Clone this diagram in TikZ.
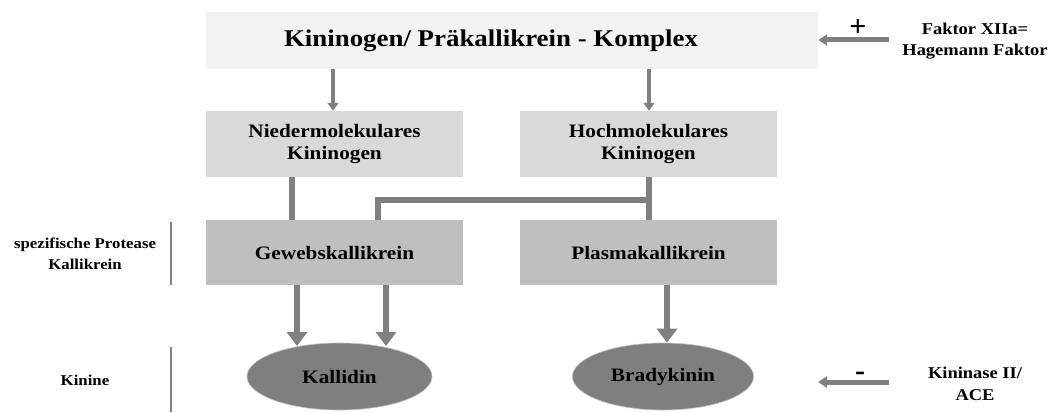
\documentclass[tikz,border=0pt]{standalone}
\usepackage{fontspec}
\setmainfont{Liberation Serif}
\newfontfamily\widefont{Liberation Serif}[FakeStretch=1.12]
\usetikzlibrary{arrows.meta,shapes.geometric}
\definecolor{topfill}{HTML}{F2F2F2}
\definecolor{midfill}{HTML}{D9D9D9}
\definecolor{lowfill}{HTML}{BFBFBF}
\definecolor{ellfill}{HTML}{7F7F7F}
\definecolor{conn}{HTML}{808080}
\tikzset{
  box/.style={rectangle, inner sep=0pt, font=\widefont\bfseries\fontsize{19}{22}\selectfont, align=center},
  kin/.style={ellipse, fill=ellfill, draw=lowfill, line width=0.6pt, inner sep=0pt, minimum width=185pt, minimum height=67pt, font=\widefont\bfseries\fontsize{19}{22}\selectfont},
  lbl/.style={font=\widefont\bfseries\fontsize{15}{20.5}\selectfont, align=center, inner sep=0pt},
  rlbl/.style={font=\widefont\bfseries\fontsize{16.5}{21.5}\selectfont, align=center, inner sep=0pt},
  thin arr/.style={draw=conn, line width=4pt, -{Triangle[width=11pt,length=8pt]}},
  fat arr/.style={draw=conn, line width=6.5pt, -{Triangle[width=20pt,length=14pt]}},
  fat line/.style={draw=conn, line width=6.5pt},
  side arr/.style={draw=conn, line width=5pt, -{Triangle[width=11pt,length=9pt]}},
  sep/.style={draw=conn, line width=1.2pt},
  sign/.style={font=\bfseries\fontsize{30}{30}\selectfont, inner sep=0pt}
}
\begin{document}
\begin{tikzpicture}[x=1pt,y=-1pt]
\useasboundingbox[fill=white] (0,0) rectangle (1051,412);
% boxes
\node[box, fill=topfill, minimum width=612pt, minimum height=57pt, font=\widefont\bfseries\fontsize{24}{28}\selectfont] (top) at (512,40.5) {Kininogen/ Präkallikrein - Komplex\hspace*{42pt}};
\node[box, fill=midfill, minimum width=257pt, minimum height=66pt] (nied) at (334.5,144) {Niedermolekulares\\Kininogen};
\node[box, fill=midfill, minimum width=257pt, minimum height=66pt] (hoch) at (648.5,144) {Hochmolekulares\\Kininogen};
\node[box, fill=lowfill, minimum width=257pt, minimum height=65pt] (gew) at (334.5,252.5) {Gewebskallikrein};
\node[box, fill=lowfill, minimum width=257pt, minimum height=65pt] (plas) at (648.5,252.5) {Plasmakallikrein};
\node[kin] (kall) at (339.5,376.5) {\raisebox{-3pt}{Kallidin}};
\node[kin, minimum width=181pt] (brad) at (663,376.5) {\raisebox{-3pt}{Bradykinin}};
% arrows top -> second row
\draw[thin arr] (top.south -| 333,0) -- (nied.north -| 333,0);
\draw[thin arr] (top.south -| 649,0) -- (hoch.north -| 649,0);
% lines second -> third row
\draw[fat line] (nied.south -| 292,0) -- (gew.north -| 292,0);
\draw[fat line] (hoch.south -| 649,0) -- (plas.north -| 649,0);
\coordinate (br) at (649,200);
\draw[fat line, line join=miter] (br) -- (378,200) -- (gew.north -| 378,0);
% arrows third -> ellipses
\draw[fat arr] (gew.south -| 297,0) -- (297,346);
\draw[fat arr] (gew.south -| 386,0) -- (386,346);
\draw[fat arr] (plas.south -| 667,0) -- (brad.north -| 667,0);
% left labels
\node[lbl] (prot) at (85,254) {spezifische Protease\\Kallikrein};
\node[lbl] (kinine) at (85,380) {Kinine};
\coordinate (s1a) at (171,222); \coordinate (s1b) at (171,285);
\coordinate (s2a) at (171,347); \coordinate (s2b) at (171,412);
\draw[sep] (s1a) -- (s1b);
\draw[sep] (s2a) -- (s2b);
% right side
\node[rlbl] (fak) at (975,41) {Faktor XIIa=\\Hagemann Faktor};
\node[sign] (plus) at (858,28) {+};
\coordinate (pa) at (889,40);
\draw[side arr] (pa) -- (top.east |- pa);
\node[rlbl] (kin2) at (975,384) {Kininase II/\\ACE};
\node[sign] (minus) at (860,376) {-};
\coordinate (ma) at (889,382);
\coordinate (mb) at (818,382);
\draw[side arr] (ma) -- (mb);
\end{tikzpicture}
\end{document}
